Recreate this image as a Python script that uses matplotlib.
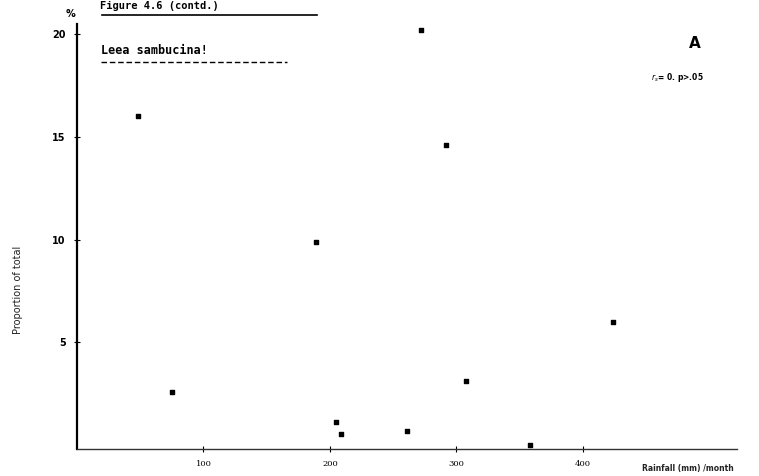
import matplotlib.pyplot as plt

# rainfall per month (mm) vs proportion of total (%)
rainfall = [48, 75, 189, 205, 209, 261, 272, 292, 308, 358, 424]
proportion = [16.0, 2.6, 9.9, 1.1, 0.55, 0.7, 20.2, 14.6, 3.1, 0.0, 6.0]

xticks = [100, 200, 300, 400]
yticks = [5, 10, 15, 20]

fig = plt.figure(figsize=(7.59, 4.76), dpi=100)
ax = fig.add_axes([77 / 759, 27 / 476, 660 / 759, 425 / 476])

ax.scatter(rainfall, proportion, s=7, marker="s", color="black", zorder=3)

ax.set_xlim(0, 522)
ax.set_ylim(-0.2, 20.5)
ax.spines["top"].set_visible(False)
ax.spines["right"].set_visible(False)
ax.spines["left"].set_linewidth(1.6)
ax.spines["bottom"].set_linewidth(1.0)
ax.spines["bottom"].set_color("#333333")

ax.set_xticks(xticks)
ax.set_xticklabels([str(v) for v in xticks], fontsize=6, family="DejaVu Serif")
ax.set_yticks(yticks)
ax.set_yticklabels([str(v) for v in yticks], fontsize=7, family="DejaVu Sans",
                   fontweight="bold")
ax.tick_params(axis="both", direction="inout", length=4, width=0.8, pad=6)

# axis labels, placed by hand
fig.text(18 / 759, 1 - 290 / 476, "Proportion of total", rotation=90,
         fontsize=7, ha="center", va="center", color="#222222")
fig.text(688 / 759, 1 - 469 / 476, "Rainfall (mm) /month", fontsize=5.5,
         fontweight="bold", ha="center", va="center", color="#222222")
fig.text(70 / 759, 1 - 14 / 476, "%", fontsize=7, fontweight="bold",
         ha="center", va="center")

# running header at the top edge, with its rule
fig.text(100 / 759, 1 - 6 / 476, "Figure 4.6 (contd.)", family="DejaVu Sans Mono",
         fontsize=7.5, fontweight="bold", ha="left", va="center")
fig.add_artist(plt.Line2D([102 / 759, 317 / 759], [1 - 15 / 476, 1 - 15 / 476],
                          color="black", lw=1.2))

# species name, typed and underlined with dashes
fig.text(101 / 759, 1 - 50 / 476, "Leea sambucina!", family="DejaVu Sans Mono",
         fontsize=8.5, fontweight="bold", ha="left", va="center")
fig.add_artist(plt.Line2D([101 / 759, 287 / 759], [1 - 62 / 476, 1 - 62 / 476],
                          color="black", lw=1.0, ls=(0, (4, 2))))

fig.text(695 / 759, 1 - 43 / 476, "A", fontsize=11, fontweight="bold",
         ha="center", va="center")
fig.text(677 / 759, 1 - 77 / 476, r"$r_s$= 0. p>.05", fontsize=5.5,
         fontweight="bold", ha="center", va="center")

fig.savefig("out.png", dpi=100)
